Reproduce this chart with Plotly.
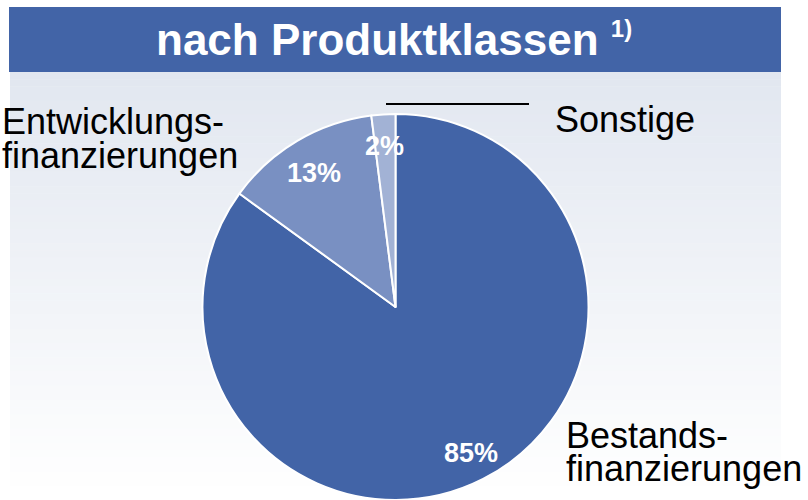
import plotly.graph_objects as go

# Data
categories = ["Bestands-finanzierungen", "Entwicklungs-finanzierungen", "Sonstige"]
values = [85, 13, 2]
colors = ["#4264a7", "#7990c2", "#a2b2d5"]
pct_labels = [f"{v}%" for v in values]

W, H = 808, 500

def px(x):
    return x / W

def py(y):
    return 1 - y / H

fig = go.Figure()
fig.add_trace(go.Pie(
    labels=categories,
    values=values,
    sort=False,
    direction="clockwise",
    rotation=0,
    marker=dict(colors=colors, line=dict(color="white", width=2)),
    textinfo="none",
    hoverinfo="label+percent",
    showlegend=False,
    domain=dict(x=[px(202), px(589)], y=[py(500), py(114)]),
))

shapes = []
# title bar
shapes.append(dict(type="rect", xref="paper", yref="paper",
                   x0=px(9), x1=px(781), y0=py(72), y1=py(7),
                   fillcolor="#4264a7", line=dict(width=0), layer="below"))
# gradient background
top_col = (0xe2, 0xe7, 0xf0)
bot_col = (0xff, 0xff, 0xff)
n = 60
y_start, y_end = 72, 500
for i in range(n):
    t = i / (n - 1)
    c = tuple(round(top_col[k] + (bot_col[k] - top_col[k]) * t) for k in range(3))
    ya = y_start + (y_end - y_start) * i / n
    yb = y_start + (y_end - y_start) * (i + 1) / n
    shapes.append(dict(type="rect", xref="paper", yref="paper",
                       x0=px(10), x1=px(781), y0=py(yb + 0.5), y1=py(ya),
                       fillcolor="rgb(%d,%d,%d)" % c, line=dict(width=0), layer="below"))
# leader line for Sonstige
shapes.append(dict(type="line", xref="paper", yref="paper",
                   x0=px(386), x1=px(529), y0=py(104), y1=py(104),
                   line=dict(color="black", width=2), layer="above"))

FONT = "Liberation Sans, Arial, sans-serif"
ann = []
ann.append(dict(text="<b>nach Produktklassen <sup><span style='font-size:24px'>1)</span></sup></b>",
                x=px(394), y=py(40), xref="paper", yref="paper",
                xanchor="center", yanchor="middle", showarrow=False,
                font=dict(family=FONT, size=44, color="white")))

def lab(text, x, y, anchor="left"):
    ann.append(dict(text=text, x=px(x), y=py(y), xref="paper", yref="paper",
                    xanchor=anchor, yanchor="middle", showarrow=False,
                    font=dict(family=FONT, size=36, color="black")))

lab("Entwicklungs-", 0, 121)
lab("finanzierungen", 0, 155)
lab("Sonstige", 553, 119)
lab("Bestands-", 564, 435)
lab("finanzierungen", 564, 468)

pct_pos = [(471, 453), (314, 173), (384, 146)]
for t, (x, y) in zip(pct_labels, pct_pos):
    ann.append(dict(text="<b>%s</b>" % t, x=px(x), y=py(y), xref="paper", yref="paper",
                    xanchor="center", yanchor="middle", showarrow=False,
                    font=dict(family=FONT, size=27, color="white")))

fig.update_layout(
    width=W, height=H,
    margin=dict(l=0, r=0, t=0, b=0),
    paper_bgcolor="white",
    plot_bgcolor="white",
    shapes=shapes,
    annotations=ann,
)

fig.write_html("out.html", config={"displayModeBar": False},
               post_script="document.body.style.margin='0';")
